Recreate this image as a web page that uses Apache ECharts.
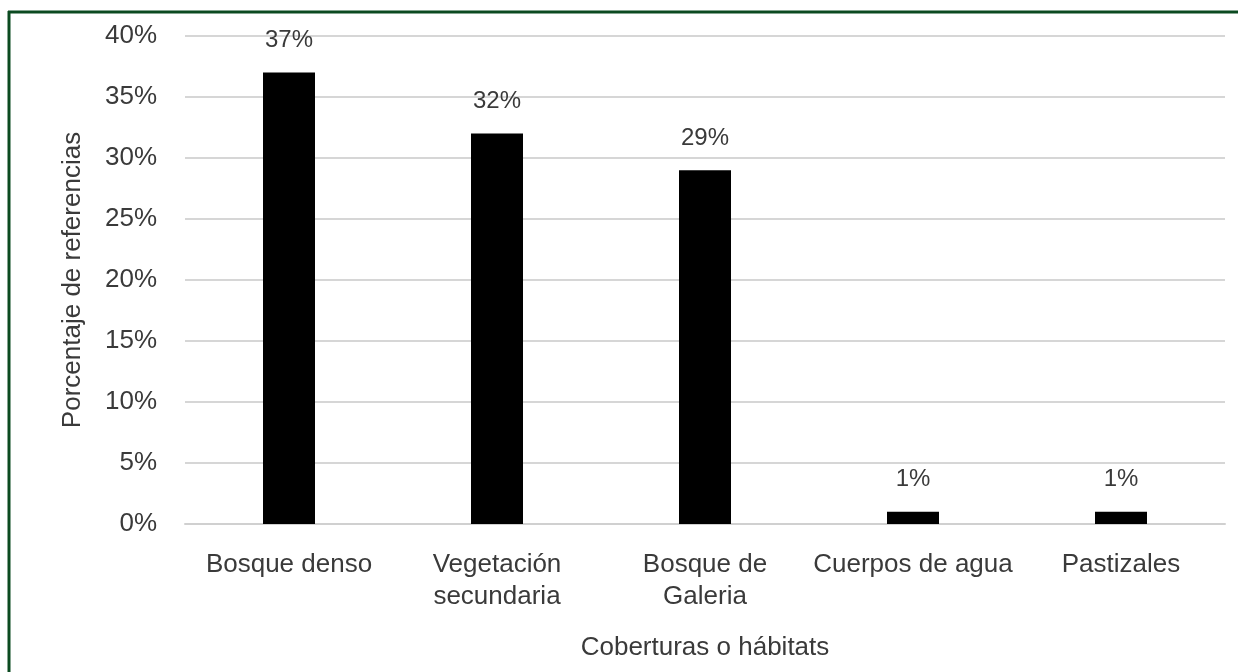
<!DOCTYPE html>
<html>
<head>
<meta charset="utf-8">
<script src="https://cdn.jsdelivr.net/npm/echarts@6/dist/echarts.min.js"></script>
<style>
html,body{margin:0;padding:0;background:#fff;}
#chart{width:1238px;height:672px;}
</style>
</head>
<body>
<div id="chart"></div>
<script>
const categories = ['Bosque denso', 'Vegetación\nsecundaria', 'Bosque de\nGaleria', 'Cuerpos de agua', 'Pastizales'];
const values = [37, 32, 29, 1, 1];
const yAxisName = 'Porcentaje de referencias';
const xAxisName = 'Coberturas o hábitats';

const chart = echarts.init(document.getElementById('chart'), null, {renderer: 'canvas'});
const font = '"Liberation Sans", Arial, sans-serif';
const textColor = '#3a3a3a';
chart.setOption({
  backgroundColor: '#ffffff',
  animation: false,
  grid: {left: 185, right: 13, top: 36, bottom: 148},
  graphic: [
    {type: 'line', shape: {x1: 8, y1: 12, x2: 1238, y2: 12}, style: {stroke: '#0b4a20', lineWidth: 3}},
    {type: 'line', shape: {x1: 9, y1: 11, x2: 9, y2: 672}, style: {stroke: '#0b4a20', lineWidth: 3}}
  ],
  xAxis: {
    type: 'category',
    data: categories,
    name: xAxisName,
    nameLocation: 'middle',
    nameGap: 111,
    nameTextStyle: {fontFamily: font, fontSize: 26, color: textColor},
    axisLine: {show: true, lineStyle: {color: '#d0d0d0', width: 2}},
    axisTick: {show: false},
    axisLabel: {interval: 0, fontFamily: font, fontSize: 26, color: textColor, margin: 25, lineHeight: 32}
  },
  yAxis: {
    type: 'value',
    min: 0, max: 40, interval: 5,
    name: yAxisName,
    nameLocation: 'middle',
    nameGap: 99,
    nameTextStyle: {fontFamily: font, fontSize: 26, color: textColor},
    axisLine: {show: false},
    axisTick: {show: false},
    axisLabel: {formatter: '{value}%', fontFamily: font, fontSize: 26, color: textColor, margin: 28},
    splitLine: {lineStyle: {color: '#d6d6d6', width: 2}}
  },
  series: [{
    type: 'bar',
    data: values,
    barWidth: 52,
    itemStyle: {color: '#000000'},
    label: {show: true, position: 'top', distance: 20, formatter: '{c}%', fontFamily: font, fontSize: 24, color: textColor}
  }]
});
</script>
</body>
</html>
